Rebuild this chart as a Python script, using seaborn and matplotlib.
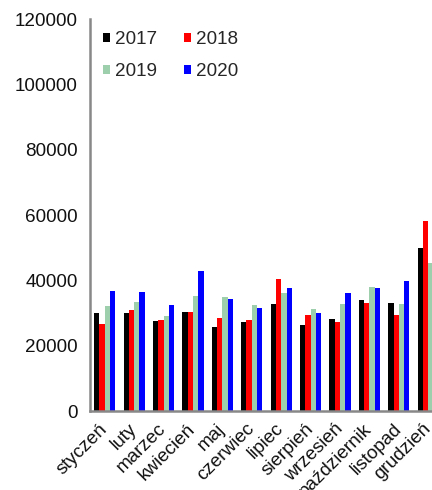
import numpy as np
import pandas as pd
import matplotlib
matplotlib.use("Agg")
import matplotlib.pyplot as plt
import matplotlib.transforms as mtransforms
import seaborn as sns
from matplotlib.patches import Patch

months = ["styczeń", "luty", "marzec", "kwiecień", "maj", "czerwiec",
          "lipiec", "sierpień", "wrzesień", "październik", "listopad", "grudzień"]
years = ["2017", "2018", "2019", "2020"]

v2017 = [30100, 29900, 27400, 30300, 25600, 27300, 32800, 26300, 28200, 33900, 33200, 50000]
v2018 = [26600, 30900, 27800, 30400, 28500, 27900, 40500, 29400, 27200, 33100, 29400, 58100]
v2019 = [32100, 33400, 29200, 35200, 34800, 32400, 36200, 31200, 32900, 38100, 32800, 45200]
v2020 = [36700, 36300, 32300, 42800, 34300, 31500, 37600, 30000, 36000, 37600, 39700, 47000]

colors = ["#000000", "#ff0000", "#9dcfad", "#0000ff"]

df = pd.DataFrame({
    "month": months * 4,
    "year": sum([[y] * len(months) for y in years], []),
    "value": v2017 + v2018 + v2019 + v2020,
})

sns.set_theme(style="white")
plt.rcParams["font.family"] = ["Liberation Sans", "DejaVu Sans"]

fig = plt.figure(figsize=(4.32, 4.90), dpi=100)
# axes runs slightly past the right edge of the figure
ax = fig.add_axes([90 / 432, 79 / 490, 353 / 432, 392 / 490])

sns.barplot(data=df, x="month", y="value", hue="year", order=months,
            hue_order=years, palette=colors, saturation=1, width=0.72,
            linewidth=0, ax=ax, legend=False)

ax.set_ylim(0, 120000)
ax.set_xlim(-0.5, len(months) - 0.5)
ax.set_yticks(np.arange(0, 120001, 20000))
ax.set_yticklabels([str(v) for v in range(0, 120001, 20000)], fontsize=13.6, color="#111111")
ax.set_xticks(range(len(months)))
ax.set_xticklabels(months, rotation=45, ha="right", va="center", rotation_mode="anchor",
                   fontsize=13.6, color="#111111")
shift = mtransforms.ScaledTranslation(3 / 100, 0, fig.dpi_scale_trans)
for lbl in ax.get_xticklabels():
    lbl.set_transform(lbl.get_transform() + shift)
ax.set_xticks(np.arange(-0.5, len(months), 1.0), minor=True)
ax.tick_params(axis="x", which="major", length=0, pad=11)
ax.tick_params(axis="x", which="minor", length=5, width=1.5, color="#888888", direction="out")
ax.tick_params(axis="y", length=5, width=1.5, color="#888888", direction="out", pad=4)
ax.set_xlabel("")
ax.set_ylabel("")

for side in ["top", "right"]:
    ax.spines[side].set_visible(False)
for side in ["left", "bottom"]:
    ax.spines[side].set_color("#888888")
    ax.spines[side].set_linewidth(1.8)

# legend fills column-wise, so order handles to read 2017 2018 / 2019 2020 by rows
order = [0, 2, 1, 3]
handles = [Patch(facecolor=colors[i], edgecolor="none", label=years[i]) for i in order]
ax.legend(handles=handles, ncol=2, frameon=False, fontsize=13.6,
          loc="upper left", bbox_to_anchor=(-0.01, 1.012),
          handlelength=0.35, handleheight=0.35, handletextpad=0.25,
          columnspacing=1.45, labelspacing=0.8)

fig.savefig("out.png", dpi=100)
